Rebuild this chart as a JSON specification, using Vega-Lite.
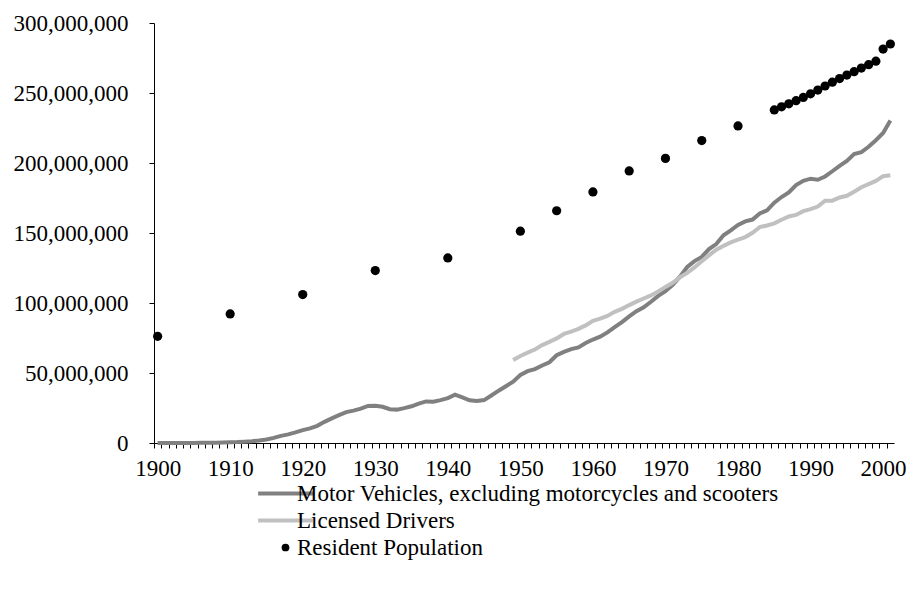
{
  "$schema": "https://vega.github.io/schema/vega-lite/v6.json",
  "autosize": "none",
  "padding": {"left": 154, "top": 23, "right": 15, "bottom": 159},
  "width": 740,
  "height": 420,
  "background": "white",
  "config": {
    "view": {"stroke": null},
    "font": "Liberation Serif",
    "axis": {"labelFont": "Liberation Serif", "labelFontSize": 23, "labelColor": "#000", "domainColor": "#000", "grid": false, "title": null},
    "legend": {"labelFont": "Liberation Serif", "labelFontSize": 23, "labelColor": "#000"}
  },
  "datasets": {
    "vehicles": [
      {"year":1900,"value":8000},{"year":1901,"value":14800},{"year":1902,"value":23000},{"year":1903,"value":32920},{"year":1904,"value":54590},{"year":1905,"value":78800},{"year":1906,"value":108100},{"year":1907,"value":143200},{"year":1908,"value":198400},{"year":1909,"value":312000},
      {"year":1910,"value":468500},{"year":1911,"value":639500},{"year":1912,"value":944000},{"year":1913,"value":1258062},{"year":1914,"value":1763018},{"year":1915,"value":2490932},{"year":1916,"value":3617937},{"year":1917,"value":5118525},{"year":1918,"value":6160448},{"year":1919,"value":7576888},
      {"year":1920,"value":9239161},{"year":1921,"value":10463295},{"year":1922,"value":12273599},{"year":1923,"value":15102105},{"year":1924,"value":17612940},{"year":1925,"value":19940724},{"year":1926,"value":22052000},{"year":1927,"value":23133000},{"year":1928,"value":24493000},{"year":1929,"value":26501000},
      {"year":1930,"value":26532000},{"year":1931,"value":25862000},{"year":1932,"value":24115000},{"year":1933,"value":23843000},{"year":1934,"value":24933000},{"year":1935,"value":26221000},{"year":1936,"value":28172000},{"year":1937,"value":29706000},{"year":1938,"value":29443000},{"year":1939,"value":30615000},
      {"year":1940,"value":32035000},{"year":1941,"value":34472000},{"year":1942,"value":32597000},{"year":1943,"value":30500000},{"year":1944,"value":30086000},{"year":1945,"value":30638000},{"year":1946,"value":33946000},{"year":1947,"value":37360000},{"year":1948,"value":40556000},{"year":1949,"value":43837000},
      {"year":1950,"value":48567000},{"year":1951,"value":51300000},{"year":1952,"value":52800000},{"year":1953,"value":55400000},{"year":1954,"value":57700000},{"year":1955,"value":62700000},{"year":1956,"value":65100000},{"year":1957,"value":67100000},{"year":1958,"value":68300000},{"year":1959,"value":71400000},
      {"year":1960,"value":73900000},{"year":1961,"value":75900000},{"year":1962,"value":79000000},{"year":1963,"value":82700000},{"year":1964,"value":86300000},{"year":1965,"value":90400000},{"year":1966,"value":94200000},{"year":1967,"value":96900000},{"year":1968,"value":100900000},{"year":1969,"value":105100000},
      {"year":1970,"value":108400000},{"year":1971,"value":113000000},{"year":1972,"value":118800000},{"year":1973,"value":125700000},{"year":1974,"value":129900000},{"year":1975,"value":132900000},{"year":1976,"value":138500000},{"year":1977,"value":142100000},{"year":1978,"value":148400000},{"year":1979,"value":151900000},
      {"year":1980,"value":155800000},{"year":1981,"value":158300000},{"year":1982,"value":159600000},{"year":1983,"value":164000000},{"year":1984,"value":166200000},{"year":1985,"value":171700000},{"year":1986,"value":175700000},{"year":1987,"value":179000000},{"year":1988,"value":184300000},{"year":1989,"value":187300000},
      {"year":1990,"value":188800000},{"year":1991,"value":188000000},{"year":1992,"value":190400000},{"year":1993,"value":194100000},{"year":1994,"value":198000000},{"year":1995,"value":201500000},{"year":1996,"value":206400000},{"year":1997,"value":207800000},{"year":1998,"value":211600000},{"year":1999,"value":216300000},
      {"year":2000,"value":221500000},{"year":2001,"value":230400000}
    ],
    "drivers": [
      {"year":1949,"value":59300000},{"year":1950,"value":62200000},{"year":1951,"value":64500000},{"year":1952,"value":66800000},{"year":1953,"value":69900000},{"year":1954,"value":72200000},{"year":1955,"value":74700000},{"year":1956,"value":77900000},{"year":1957,"value":79600000},{"year":1958,"value":81500000},{"year":1959,"value":84000000},
      {"year":1960,"value":87300000},{"year":1961,"value":88900000},{"year":1962,"value":90800000},{"year":1963,"value":93700000},{"year":1964,"value":95800000},{"year":1965,"value":98500000},{"year":1966,"value":101000000},{"year":1967,"value":103200000},{"year":1968,"value":105400000},{"year":1969,"value":108300000},
      {"year":1970,"value":111500000},{"year":1971,"value":114400000},{"year":1972,"value":118400000},{"year":1973,"value":121500000},{"year":1974,"value":125400000},{"year":1975,"value":129800000},{"year":1976,"value":134000000},{"year":1977,"value":138100000},{"year":1978,"value":140800000},{"year":1979,"value":143300000},
      {"year":1980,"value":145300000},{"year":1981,"value":147100000},{"year":1982,"value":150200000},{"year":1983,"value":154200000},{"year":1984,"value":155400000},{"year":1985,"value":156900000},{"year":1986,"value":159500000},{"year":1987,"value":161800000},{"year":1988,"value":162900000},{"year":1989,"value":165600000},
      {"year":1990,"value":167000000},{"year":1991,"value":168900000},{"year":1992,"value":173100000},{"year":1993,"value":173100000},{"year":1994,"value":175400000},{"year":1995,"value":176600000},{"year":1996,"value":179500000},{"year":1997,"value":182700000},{"year":1998,"value":184900000},{"year":1999,"value":187200000},
      {"year":2000,"value":190600000},{"year":2001,"value":191300000}
    ],
    "population": [
      {"year":1900,"value":76200000},{"year":1910,"value":92200000},{"year":1920,"value":106000000},{"year":1930,"value":123200000},{"year":1940,"value":132200000},{"year":1950,"value":151300000},{"year":1955,"value":165900000},{"year":1960,"value":179300000},{"year":1965,"value":194300000},{"year":1970,"value":203300000},{"year":1975,"value":216000000},{"year":1980,"value":226500000},
      {"year":1985,"value":237900000},{"year":1986,"value":240100000},{"year":1987,"value":242300000},{"year":1988,"value":244500000},{"year":1989,"value":246800000},{"year":1990,"value":249400000},{"year":1991,"value":252100000},{"year":1992,"value":255000000},{"year":1993,"value":257700000},{"year":1994,"value":260300000},{"year":1995,"value":262800000},{"year":1996,"value":265200000},{"year":1997,"value":267800000},{"year":1998,"value":270200000},{"year":1999,"value":272700000},{"year":2000,"value":281400000},{"year":2001,"value":285000000}
    ]
  },
  "encoding": {
    "x": {
      "field": "year", "type": "quantitative",
      "scale": {"domain": [1899.5, 2001.5], "nice": false, "zero": false},
      "axis": {
        "values": [1900,1901,1902,1903,1904,1905,1906,1907,1908,1909,1910,1911,1912,1913,1914,1915,1916,1917,1918,1919,1920,1921,1922,1923,1924,1925,1926,1927,1928,1929,1930,1931,1932,1933,1934,1935,1936,1937,1938,1939,1940,1941,1942,1943,1944,1945,1946,1947,1948,1949,1950,1951,1952,1953,1954,1955,1956,1957,1958,1959,1960,1961,1962,1963,1964,1965,1966,1967,1968,1969,1970,1971,1972,1973,1974,1975,1976,1977,1978,1979,1980,1981,1982,1983,1984,1985,1986,1987,1988,1989,1990,1991,1992,1993,1994,1995,1996,1997,1998,1999,2000,2001,2002],
        "ticks": true,
        "tickColor": "#000000",
        "tickOpacity": 1,
        "tickOffset": -3.627,
        "labelOffset": 3.627,
        "labelExpr": "datum.value % 10 === 0 && datum.value <= 2000 ? '' + datum.value : ''",
        "labelOverlap": false,
        "labelFlush": false,
        "labelBound": false,
        "tickSize": 5,
        "labelPadding": 9,
        "domainWidth": 1,
        "tickWidth": 1
      }
    },
    "y": {
      "field": "value", "type": "quantitative",
      "scale": {"domain": [0, 300000000], "nice": false},
      "axis": {
        "values": [0, 50000000, 100000000, 150000000, 200000000, 250000000, 300000000],
        "ticks": true,
        "tickColor": "#000000",
        "tickOpacity": 1,
        "format": ",d",
        "tickSize": 5,
        "labelPadding": 21,
        "domainWidth": 1,
        "tickWidth": 1
      }
    }
  },
  "layer": [
    {
      "data": {"name": "vehicles"},
      "mark": {"type": "line", "strokeWidth": 4, "interpolate": "linear"},
      "encoding": {
        "color": {
          "datum": "Motor Vehicles, excluding motorcycles and scooters",
          "type": "nominal",
          "scale": {
            "domain": ["Motor Vehicles, excluding motorcycles and scooters", "Licensed Drivers", "Resident Population"],
            "range": ["#808080", "#C0C0C0", "#000000"]
          },
          "legend": {
            "orient": "none",
            "legendX": 120,
            "legendY": 459,
            "direction": "vertical",
            "title": null,
            "symbolType": "stroke",
            "symbolSize": 3000,
            "symbolStrokeWidth": 4,
            "labelLimit": 700,
            "labelOffset": 0,
            "rowPadding": 3,
            "encode": {
              "symbols": {
                "update": {
                  "shape": {"signal": "datum.value === 'Resident Population' ? 'circle' : 'stroke'"},
                  "size": {"signal": "datum.value === 'Resident Population' ? 60 : 3000"},
                  "fill": {"signal": "datum.value === 'Resident Population' ? '#000000' : 'transparent'"},
                  "stroke": {"signal": "datum.value === 'Resident Population' ? '#000000' : (datum.value === 'Licensed Drivers' ? '#C0C0C0' : '#808080')"},
                  "strokeWidth": {"signal": "datum.value === 'Resident Population' ? 0 : 4"},
                  "opacity": {"value": 1}
                }
              }
            }
          }
        }
      }
    },
    {
      "data": {"name": "drivers"},
      "mark": {"type": "line", "strokeWidth": 4},
      "encoding": {"color": {"datum": "Licensed Drivers", "type": "nominal"}}
    },
    {
      "data": {"name": "population"},
      "mark": {"type": "point", "filled": true, "size": 85, "opacity": 1},
      "encoding": {"color": {"datum": "Resident Population", "type": "nominal"}}
    }
  ]
}
